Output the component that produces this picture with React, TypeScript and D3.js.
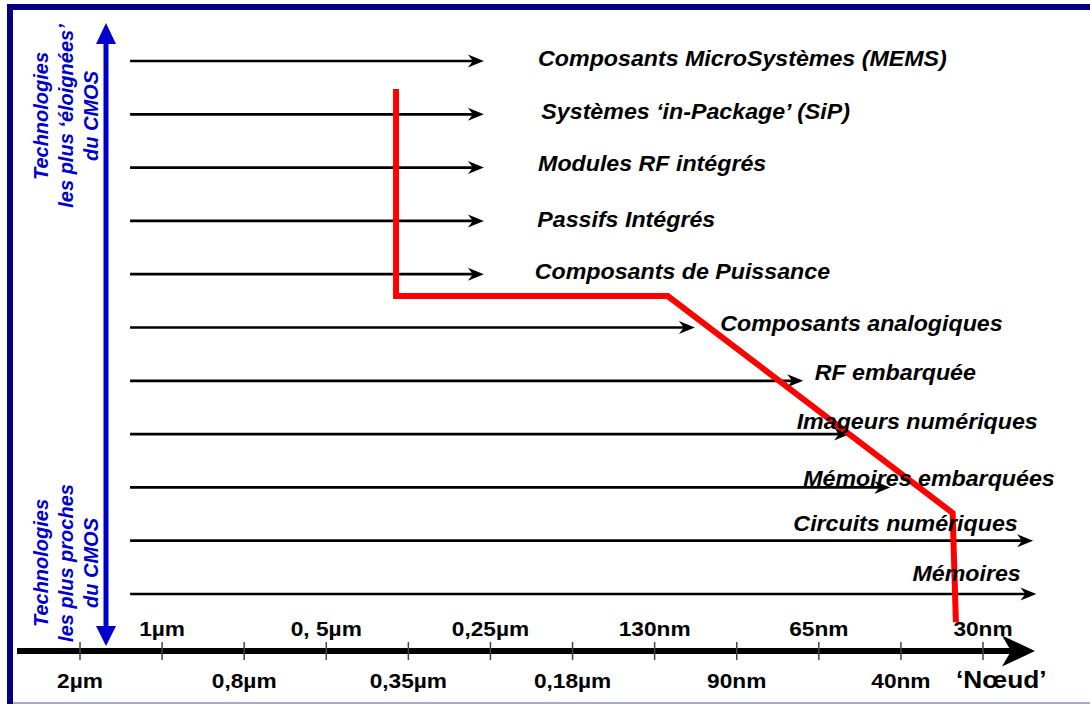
import React from "react";
import * as d3 from "d3";

const W = 1090;
const H = 704;

// Technology nodes along the bottom axis (index = tick order)
const nodesBelow = ["2µm", "0,8µm", "0,35µm", "0,18µm", "90nm", "40nm"];
const nodesAbove = ["1µm", "0, 5µm", "0,25µm", "130nm", "65nm", "30nm"];
const nodeIndexBelow = [0, 2, 4, 6, 8, 10];
const nodeIndexAbove = [1, 3, 5, 7, 9, 11];

// Technology categories (rows, top to bottom)
const categories = [
  "Composants MicroSystèmes (MEMS)",
  "Systèmes ‘in-Package’ (SiP)",
  "Modules RF intégrés",
  "Passifs Intégrés",
  "Composants de Puissance",
  "Composants analogiques",
  "RF embarquée",
  "Imageurs numériques",
  "Mémoires embarquées",
  "Circuits numériques",
  "Mémoires",
];
// node reached by each category arrow (in node-index units)
const arrowStart = 0.61;
const arrowEnd = [4.92, 4.92, 4.92, 4.92, 4.92, 7.49, 8.81, 9.38, 9.87, 11.61, 11.65];
// label anchor (node index, row units)
const labelX = [5.58, 5.62, 5.58, 5.57, 5.54, 7.8, 8.95, 8.73, 8.81, 8.69, 10.14];
const labelY = [0.094, 1.088, 2.064, 3.114, 4.09, 5.066, 5.985, 6.904, 7.974, 8.818, 9.756];

// red frontier (node index, row)
const frontierX = [3.85, 3.85, 7.16, 10.63, 10.67];
const frontierY = [0.525, 4.41, 4.41, 8.48, 10.53];

const sideTop = ["Technologies", "les plus ‘éloignées’", "du CMOS"];
const sideBottom = ["Technologies", "les plus proches", "du CMOS"];

const FONT = "'Liberation Sans', Arial, Helvetica, sans-serif";
const BLUE = "#0000CC";
const NAVY = "#000080";
const SX = 1.08;

export default function App() {
  const x = d3.scaleLinear().domain([0, 11]).range([80, 983]);
  const y = d3.scaleLinear().domain([0, 10]).range([61, 594]);

  const axisY = 651;
  const line = d3
    .line<[number, number]>()
    .x((d) => x(d[0]))
    .y((d) => y(d[1]));
  const frontier: [number, number][] = frontierX.map((v, i) => [v, frontierY[i]]);

  const arrowHead = (tx: number, ty: number, len: number, half: number, notch: number) =>
    `M${tx},${ty} L${tx - len},${ty - half} L${tx - len + notch},${ty} L${tx - len},${ty + half} Z`;

  const ticks = d3.range(0, 12);

  return (
    <svg
      width={W}
      height={H}
      style={{ position: "absolute", left: 0, top: 0, background: "#fff" }}
      fontFamily={FONT}
    >
      <rect x={0} y={0} width={W} height={H} fill="#fff" />
      {/* frame */}
      <rect x={7} y={4} width={W - 7} height={6} fill={NAVY} />
      <rect x={7} y={4} width={6} height={H - 4} fill={NAVY} />
      <rect x={13} y={702} width={W - 13} height={2} fill="#aaaad0" />

      {/* vertical blue double arrow */}
      <line x1={106} x2={106} y1={40} y2={630} stroke={BLUE} strokeWidth={5} />
      <path d="M106,23 L96,44 L116,44 Z" fill={BLUE} />
      <path d="M106,646 L96,626 L116,626 Z" fill={BLUE} />

      {/* side labels */}
      {[{ lines: sideTop, cy: 116 }, { lines: sideBottom, cy: 563 }].map((g, gi) => (
        <g key={gi}>
          {g.lines.map((t, i) => (
            <text
              key={i}
              transform={`translate(${48 + i * 25},${g.cy}) rotate(-90)`}
              textAnchor="middle"
              fontSize={20}
              fontWeight="bold"
              fontStyle="italic"
              fill={BLUE}
            >
              {t}
            </text>
          ))}
        </g>
      ))}

      {/* category arrows */}
      {categories.map((c, i) => (
        <g key={c}>
          <line
            x1={x(arrowStart)}
            x2={x(arrowEnd[i]) - 8}
            y1={y(i)}
            y2={y(i)}
            stroke="#000"
            strokeWidth={2.7}
          />
          <path d={arrowHead(x(arrowEnd[i]), y(i), 16, 6.5, 5)} fill="#000" />
        </g>
      ))}

      {/* red frontier */}
      <path d={line(frontier) || ""} fill="none" stroke="#FF0000" strokeWidth={6} strokeLinejoin="miter" />

      {/* category labels */}
      {categories.map((c, i) => (
        <text
          key={"l" + i}
          transform={`translate(${x(labelX[i])},${y(labelY[i])}) scale(${SX},1)`}
          fontSize={21.5}
          fontWeight="bold"
          fontStyle="italic"
          fill="#000"
        >
          {c}
        </text>
      ))}

      {/* bottom axis */}
      <line x1={17} x2={1012} y1={axisY} y2={axisY} stroke="#000" strokeWidth={6} />
      <path d={arrowHead(1035, axisY, 33, 15.5, 9)} fill="#000" />
      {ticks.map((t) => (
        <line key={t} x1={x(t)} x2={x(t)} y1={642} y2={660} stroke="#444" strokeWidth={1.5} />
      ))}
      {nodesAbove.map((n, i) => (
        <text
          key={n}
          transform={`translate(${x(nodeIndexAbove[i])},636) scale(${SX},1)`}
          textAnchor="middle"
          fontSize={21}
          fontWeight="bold"
          fill="#000"
        >
          {n}
        </text>
      ))}
      {nodesBelow.map((n, i) => (
        <text
          key={n}
          transform={`translate(${x(nodeIndexBelow[i])},688) scale(${SX},1)`}
          textAnchor="middle"
          fontSize={21}
          fontWeight="bold"
          fill="#000"
        >
          {n}
        </text>
      ))}
      <text transform="translate(956,688) scale(1.12,1)" fontSize={23.5} fontWeight="bold" fill="#000">
        ‘Nœud’
      </text>
    </svg>
  );
}
